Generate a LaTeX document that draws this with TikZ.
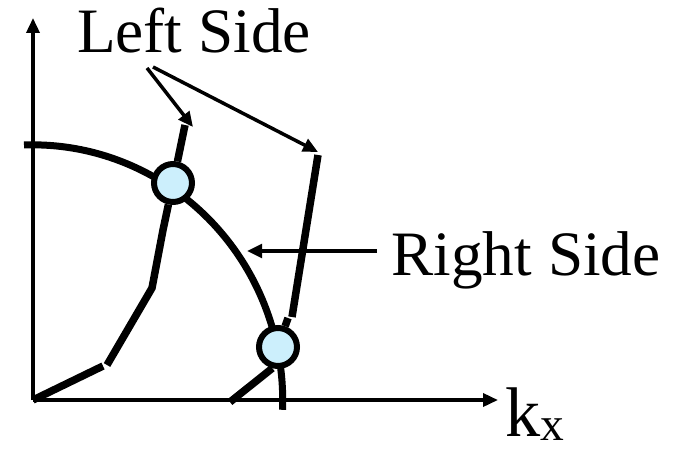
\documentclass[tikz,border=0pt]{standalone}
\usepackage{fontspec}
\setmainfont{Liberation Serif}
\usetikzlibrary{arrows.meta}
\tikzset{
  every picture/.style={x=0.02cm, y=0.02cm},
  axis/.style={line width=0.07cm, -{Triangle[length=0.3cm, width=0.26cm]}},
  pointer/.style={line width=0.07cm, -{Triangle[length=0.3cm, width=0.27cm]}},
  curve/.style={line width=0.15cm},
  dot/.style={circle, draw, line width=0.12cm, fill=cyan!20, minimum size=0.76cm, inner sep=0pt},
  lbl/.style={font=\fontsize{36}{40}\selectfont, inner sep=0pt},
}
\begin{document}
\begin{tikzpicture}
  \useasboundingbox (0,0) rectangle (675,450);
  \coordinate (o) at (33,50);
  % axes
  \draw[axis] (o) -- (33,432);
  \draw[axis] (o) -- (498,50);
  \node[anchor=base west, inner sep=0pt, font=\fontsize{40}{44}\selectfont] (kx) at (505,14) {k\raisebox{-2.5pt}{\fontsize{27}{30}\selectfont x}};
  % the circle arc
  \draw[curve, line width=0.14cm] (24,305) arc[start angle=92, end angle=-2, x radius=250, y radius=256];
  \node[dot] (c1) at (173,267) {};
  \node[dot] (c2) at (278,103) {};
  % left side
  \draw[curve] (o) -- (103,84);
  \draw[curve] (107,85) -- (152,162) -- (163,220) -- (c1);
  \draw[curve] (c1) -- (185,325);
  % right side
  \draw[curve] (292,133) -- (318,295);
  \draw[curve] (c2) -- (288,132);
  \draw[curve] (230,48) -- (c2.255);
  % labels
  \node[lbl, anchor=base] (left) at (194,397) {Left Side};
  \node[lbl, anchor=base] (right) at (526,175) {Right Side};
  \draw[pointer] (147,382) -- (193,323);
  \draw[pointer] (153,383) -- (318,298);
  \draw[pointer] (377,199) -- (247,199);
\end{tikzpicture}
\end{document}
